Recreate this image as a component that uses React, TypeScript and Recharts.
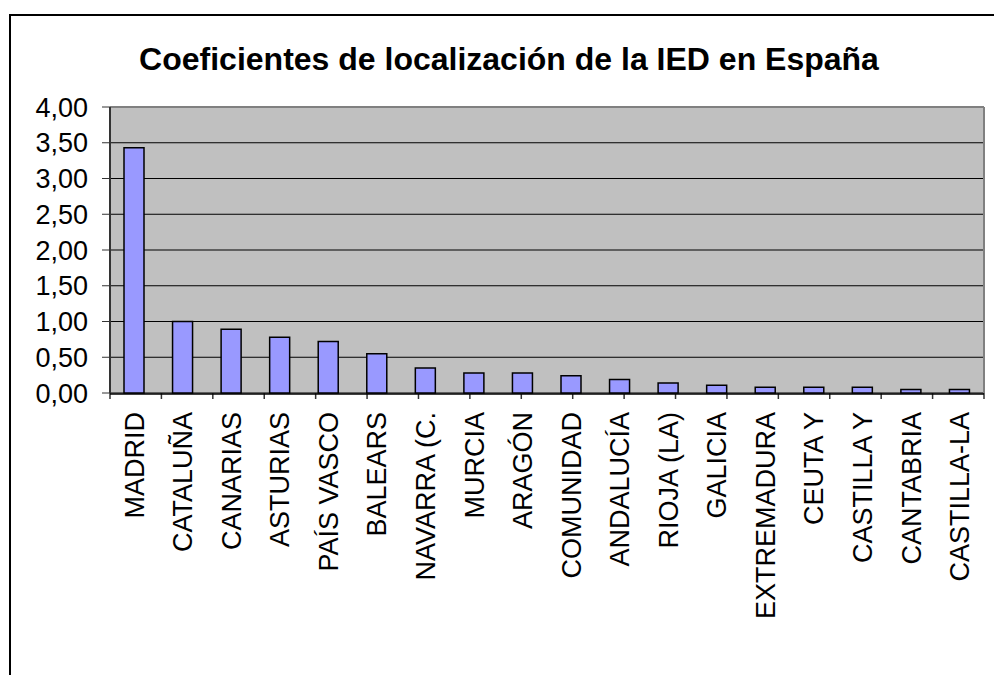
import React from "react"
import { BarChart, Bar, XAxis, YAxis, CartesianGrid, ReferenceLine } from "recharts"

const categories = [
  "MADRID", "CATALUÑA", "CANARIAS", "ASTURIAS", "PAÍS VASCO", "BALEARS",
  "NAVARRA (C.", "MURCIA", "ARAGÓN", "COMUNIDAD", "ANDALUCÍA", "RIOJA (LA)",
  "GALICIA", "EXTREMADURA", "CEUTA Y", "CASTILLA Y", "CANTABRIA", "CASTILLA-LA",
]
const values = [3.43, 1.0, 0.89, 0.78, 0.72, 0.55, 0.35, 0.28, 0.28, 0.24, 0.19, 0.14, 0.11, 0.08, 0.08, 0.08, 0.05, 0.05]
const yTicks = [0, 0.5, 1, 1.5, 2, 2.5, 3, 3.5, 4]
const boundaryTicks = categories.map((_, i) => i).concat([categories.length])

const data = categories.map((name, i) => ({ name, value: values[i] }))

const FONT = "Arial, 'Liberation Sans', sans-serif"

const fmt = (v: number) => v.toFixed(2).replace(".", ",")

function CategoryTick(props: any) {
  const { x, y, payload } = props
  return (
    <text
      x={x}
      y={y + 10}
      transform={`rotate(-90, ${x}, ${y + 10})`}
      textAnchor="end"
      dy="0.35em"
      fontSize={27}
      fontFamily={FONT}
      fill="#000"
    >
      {payload.value}
    </text>
  )
}

const EmptyTick = () => <g />

export default function App() {
  return (
    <div style={{ position: "absolute", left: 0, top: 0, width: 994, height: 675, background: "#fff", overflow: "hidden" }}>
      <div
        style={{
          position: "absolute",
          left: 9,
          top: 14,
          width: 1100,
          height: 800,
          borderLeft: "2px solid #000",
          borderTop: "2px solid #000",
        }}
      />
      <div
        style={{
          position: "absolute",
          left: 0,
          top: 41,
          width: 1018,
          textAlign: "center",
          fontFamily: FONT,
          fontWeight: "bold",
          fontSize: 32,
        }}
      >
        Coeficientes de localización de la IED en España
      </div>
      <div style={{ position: "absolute", left: 0, top: 0 }}>
        <BarChart width={994} height={675} data={data} margin={{ top: 107, right: 10, left: 0, bottom: 131 }}>
          <CartesianGrid xAxisId="cat" fill="#C0C0C0" vertical={false} stroke="#000" strokeOpacity={1} />
          <XAxis
            xAxisId={0}
            type="number"
            domain={[0, categories.length]}
            ticks={boundaryTicks}
            interval={0}
            tick={<EmptyTick />}
            axisLine={false}
            tickSize={6}
            tickLine={{ stroke: "#333", strokeWidth: 1.5 }}
            height={1}
          />
          <XAxis
            xAxisId="cat"
            dataKey="name"
            interval={0}
            height={150}
            tickLine={false}
            axisLine={{ stroke: "#000", strokeWidth: 1.5 }}
            tick={<CategoryTick />}
          />
          <YAxis
            width={110}
            domain={[0, 4]}
            ticks={yTicks}
            interval={0}
            tickFormatter={fmt}
            tickSize={8}
            tickMargin={14}
            axisLine={{ stroke: "#333", strokeWidth: 2 }}
            tickLine={{ stroke: "#333" }}
            tick={{ fill: "#000", fontSize: 27, fontFamily: FONT }}
          />
          <ReferenceLine xAxisId="cat" y={4} stroke="#808080" strokeWidth={2} />
          <Bar xAxisId="cat" dataKey="value" fill="#9999FF" stroke="#000" strokeWidth={1.5} barSize={20} isAnimationActive={false} />
        </BarChart>
      </div>
      <div style={{ position: "absolute", left: 983, top: 107, width: 2, height: 286, background: "#808080" }} />
    </div>
  )
}
